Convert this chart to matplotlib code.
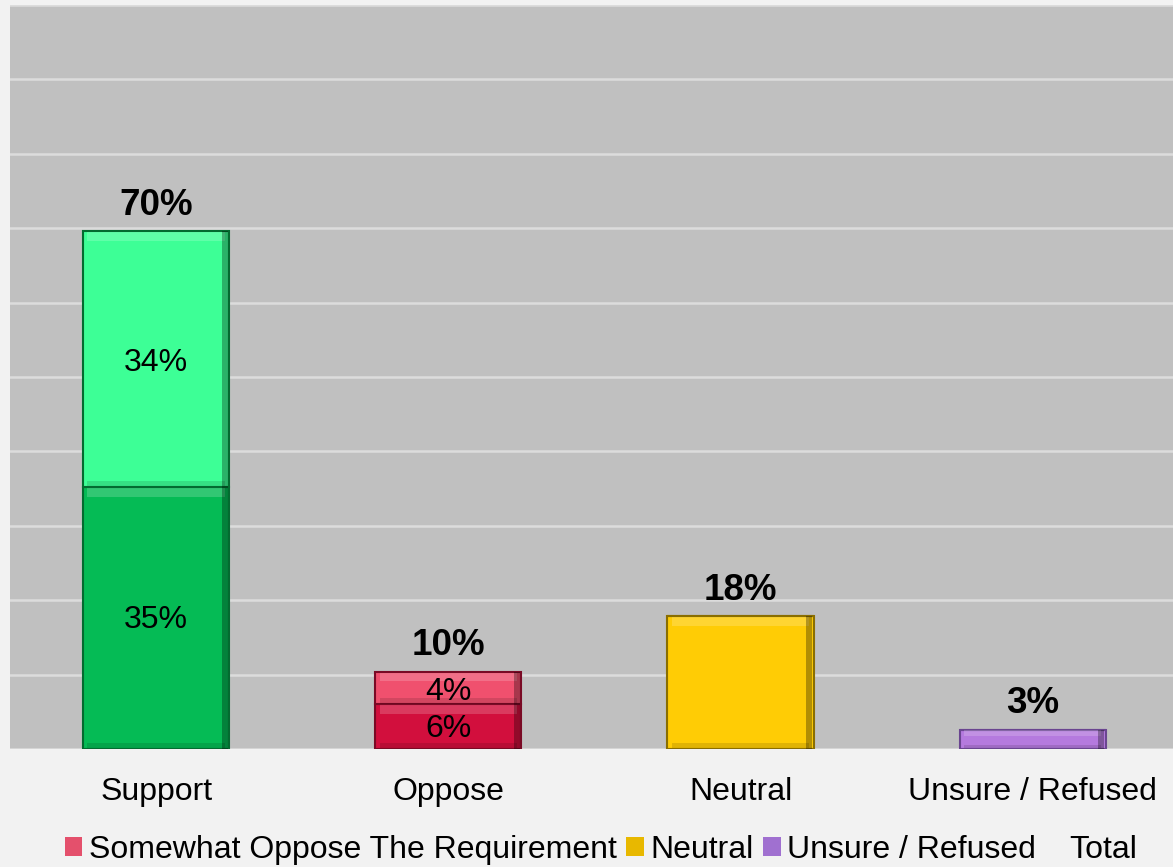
import matplotlib.pyplot as plt
import matplotlib.patches as mpatches

plt.rcParams['font.family'] = ['Liberation Sans', 'DejaVu Sans']

categories = ['Support', 'Oppose', 'Neutral', 'Unsure / Refused']
# lower and upper stack segments (percent)
lower_vals = [35.2, 6.0, 17.9, 2.6]
upper_vals = [34.4, 4.4, 0.0, 0.0]
lower_cols = ['#05bb55', '#d20f3d', '#ffcc05', '#b57ade']
upper_cols = ['#3dff96', '#f0506e', '#ffcc05', '#b57ade']
edge_cols = ['#036b30', '#7a0a25', '#8a6e00', '#6a4590']

legend_labels = ['Somewhat Oppose The Requirement', 'Neutral', 'Unsure / Refused', 'Total']
legend_cols = ['#e4506c', '#e8b800', '#a070d0', 'none']

fig = plt.figure(figsize=(11.73, 8.67), dpi=100)
fig.patch.set_facecolor('#f2f2f2')
ax = fig.add_axes([10 / 1173, 118 / 867, 1163 / 1173, 744 / 867])
ax.set_facecolor('#c0c0c0')

x = list(range(len(categories)))
w = 0.5

ax.bar(x, lower_vals, width=w, color=lower_cols, edgecolor=edge_cols, linewidth=1.5, zorder=3)
ax.bar(x, upper_vals, width=w, bottom=lower_vals, color=upper_cols, edgecolor=edge_cols,
       linewidth=1.5, zorder=3)

# bevel look: light strip on top, dark strip on right of each segment
tops_low = lower_vals
tops_up = [a + b for a, b in zip(lower_vals, upper_vals)]
for i in x:
    segs = [(0, tops_low[i], lower_cols[i])]
    if upper_vals[i] > 0:
        segs.append((tops_low[i], tops_up[i], upper_cols[i]))
    for b, t, c in segs:
        band = min(1.2, (t - b) * 0.3)
        ax.bar(i, band, width=w * 0.94, bottom=t - band * 1.1, color='white', alpha=0.18,
               linewidth=0, zorder=4)
        ax.bar(i, band * 0.6, width=w * 0.94, bottom=b + 0.1, color='black', alpha=0.12,
               linewidth=0, zorder=4)
        ax.bar(i + w * 0.47, t - b, width=w * 0.04, bottom=b, color='black', alpha=0.3,
               linewidth=0, zorder=4)

# segment labels
for i in x:
    if upper_vals[i] > 0:
        ax.text(i, lower_vals[i] / 2 - 0.3, f'{lower_vals[i]:.0f}%', ha='center', va='center',
                fontsize=23, zorder=5)
        ax.text(i, lower_vals[i] + upper_vals[i] / 2 - 0.5, f'{upper_vals[i]:.0f}%', ha='center',
                va='center', fontsize=23, zorder=5)

# totals
for i in x:
    ax.text(i, tops_up[i] + 1.1, f'{tops_up[i]:.0f}%', ha='center', va='bottom',
            fontsize=26.5, fontweight='bold', zorder=5)

ax.set_xlim(-0.5, 3.48)
ax.set_ylim(0, 100)
ax.set_yticks(range(0, 101, 10))
ax.set_yticklabels([])
ax.yaxis.grid(True, color='#dcdcdc', linewidth=1.8, zorder=0)
ax.tick_params(axis='both', length=0)
ax.set_xticks(x)
ax.set_xticklabels(categories, fontsize=23)
ax.tick_params(axis='x', pad=20)
for s in ax.spines.values():
    s.set_visible(False)

handles = [mpatches.Patch(facecolor=c, edgecolor='none') for c in legend_cols]
fig.legend(handles, legend_labels, loc='center', bbox_to_anchor=(601 / 1173, 1 - 850 / 867),
           ncol=4, frameon=False, fontsize=23, handlelength=0.55, handleheight=0.55,
           handletextpad=0.2, columnspacing=0.3)

fig.savefig('out.png', dpi=100, facecolor=fig.get_facecolor())
